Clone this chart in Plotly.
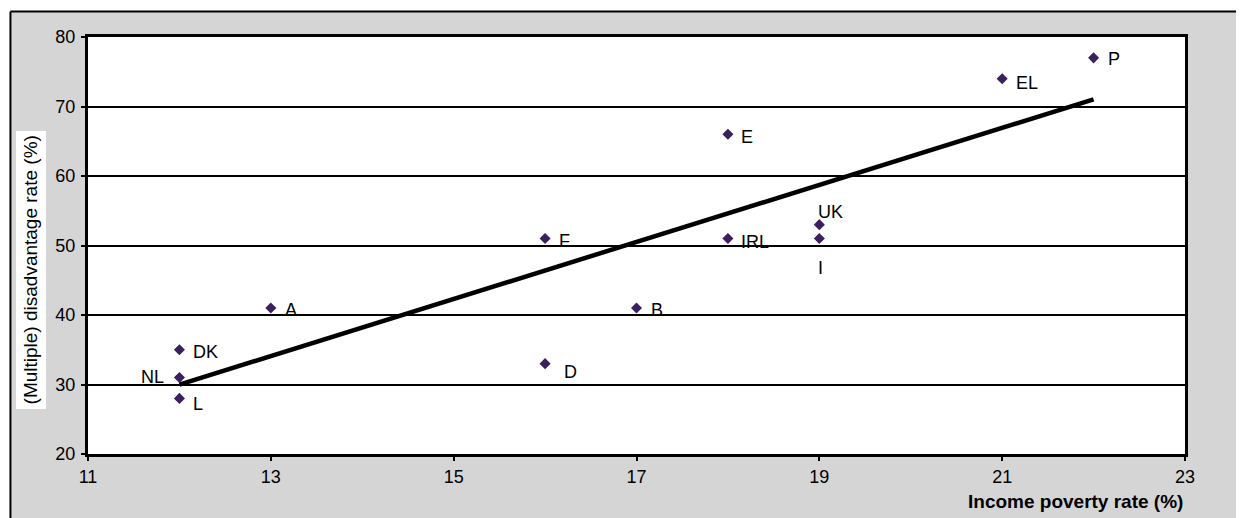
import numpy as np
import plotly.graph_objects as go

# Data
countries = ["NL", "DK", "L", "A", "F", "D", "B", "E", "IRL", "UK", "I", "EL", "P"]
income_poverty = [12, 12, 12, 13, 16, 16, 17, 18, 18, 19, 19, 21, 22]
disadvantage = [31, 35, 28, 41, 51, 33, 41, 66, 51, 53, 51, 74, 77]
x_ticks = [11, 13, 15, 17, 19, 21, 23]
y_ticks = [20, 30, 40, 50, 60, 70, 80]

# label placement styles (pixel offsets)
label_style = {
    "NL": ("right", -13, 1),
    "DK": ("left", 12, -2),
    "L": ("left", 12, -6),
    "A": ("left", 12, -2),
    "F": ("left", 12, -2),
    "D": ("left", 17, -8),
    "B": ("left", 12, -2),
    "E": ("left", 11, -3),
    "IRL": ("left", 11, -3),
    "UK": ("left", -3, 13),
    "I": ("center", 1, -29),
    "EL": ("left", 12, -4),
    "P": ("left", 12, -1),
}

FONT = "Liberation Sans, Arial, sans-serif"
GRAY = "#d5d5d5"

xs = np.array(income_poverty, dtype=float)
ys = np.array(disadvantage, dtype=float)
slope, intercept = np.polyfit(xs, ys, 1)
trend_x = np.array([xs.min(), xs.max()])
trend_y = slope * trend_x + intercept

fig = go.Figure()
fig.add_trace(go.Scatter(
    x=trend_x, y=trend_y, mode="lines",
    line=dict(color="black", width=4.5), hoverinfo="skip", showlegend=False))
fig.add_trace(go.Scatter(
    x=income_poverty, y=disadvantage, mode="markers",
    marker=dict(symbol="diamond", size=8.5, color="#3b1f5e"),
    text=countries, showlegend=False))

annotations = []
for c, xv, yv in zip(countries, income_poverty, disadvantage):
    anchor, dx, dy = label_style[c]
    annotations.append(dict(
        x=xv, y=yv, xref="x", yref="y", text=c, showarrow=False,
        xanchor=anchor, yanchor="middle", xshift=dx, yshift=dy,
        font=dict(family=FONT, size=18, color="black")))

annotations.append(dict(
    x=1.0, y=-0.115, xref="paper", yref="paper",
    text="<b>Income poverty rate (%)</b>", showarrow=False,
    xanchor="right", yanchor="middle",
    font=dict(family=FONT, size=19, color="black")))
annotations.append(dict(
    x=-0.052, y=0.4425, xref="paper", yref="paper",
    text="(Multiple) disadvantage rate (%)", showarrow=False,
    textangle=-90, xanchor="center", yanchor="middle",
    bgcolor="white", borderpad=4,
    font=dict(family=FONT, size=19, color="black")))

FX0, FY1 = -0.0707, 1.0612
shapes = [
    # white strips outside the outer frame
    dict(type="rect", xref="paper", yref="paper", x0=FX0, x1=1.3, y0=FY1, y1=1.5,
         fillcolor="white", line=dict(width=0)),
    dict(type="rect", xref="paper", yref="paper", x0=-0.3, x1=FX0, y0=-0.5, y1=1.5,
         fillcolor="white", line=dict(width=0)),
    # frame border lines
    dict(type="line", xref="paper", yref="paper", x0=FX0, x1=1.3, y0=FY1, y1=FY1,
         line=dict(color="black", width=2)),
    dict(type="line", xref="paper", yref="paper", x0=FX0, x1=FX0, y0=-0.5, y1=FY1,
         line=dict(color="black", width=2)),
]

fig.update_layout(
    width=1244, height=518,
    margin=dict(l=80, r=67, t=29, b=72),
    paper_bgcolor=GRAY, plot_bgcolor="white",
    annotations=annotations, shapes=shapes,
    font=dict(family=FONT, size=18, color="black"),
    xaxis=dict(range=[11, 23], tickvals=x_ticks, showgrid=False, zeroline=False,
               showline=True, mirror=True, linecolor="black", linewidth=3,
               ticks="outside", ticklen=4, tickwidth=2, tickcolor="black",
               ticklabelstandoff=0,
               tickfont=dict(family=FONT, size=18, color="black")),
    yaxis=dict(range=[20, 80], tickvals=y_ticks, showgrid=True, gridcolor="black",
               gridwidth=2, zeroline=False,
               showline=True, mirror=True, linecolor="black", linewidth=3,
               ticks="outside", ticklen=4, tickwidth=2, tickcolor="black",
               ticklabelstandoff=2,
               tickfont=dict(family=FONT, size=18, color="black")),
)

fig.write_html("out.html")
